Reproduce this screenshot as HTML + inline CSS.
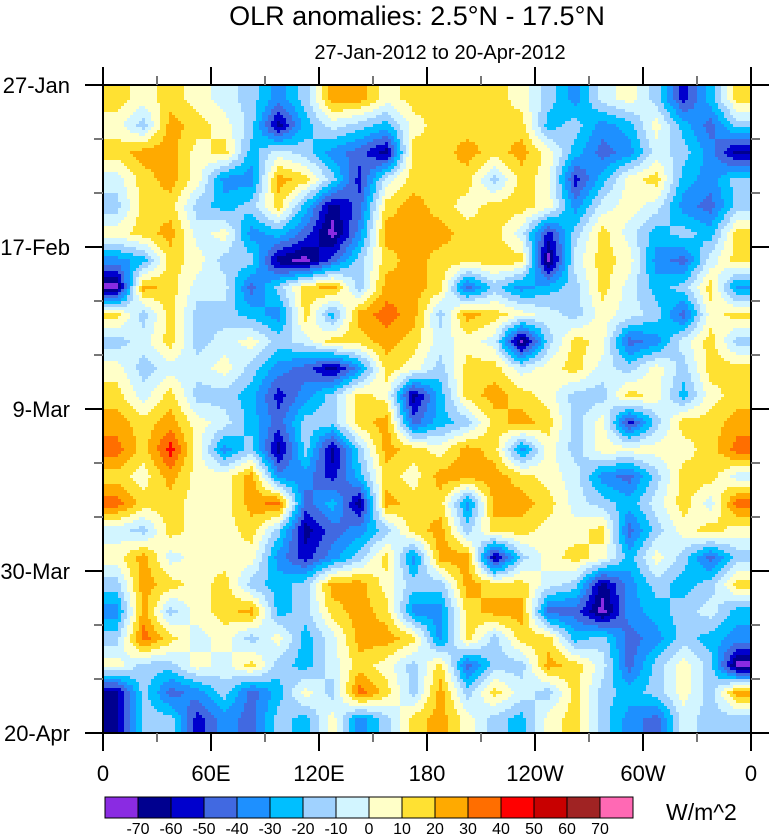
<!DOCTYPE html>
<html><head><meta charset="utf-8">
<style>
html,body{margin:0;padding:0;background:#fff;}
body{width:770px;height:834px;overflow:hidden;font-family:"Liberation Sans",sans-serif;}
svg text{font-family:"Liberation Sans",sans-serif;fill:#000;}
</style></head>
<body>
<svg id="chart" width="770" height="834" xmlns="http://www.w3.org/2000/svg">
<text x="417" y="25" font-size="27" text-anchor="middle">OLR anomalies: 2.5°N - 17.5°N</text>
<text x="440" y="59" font-size="20" text-anchor="middle">27-Jan-2012 to 20-Apr-2012</text>
<g id="field"></g>
<g id="axes"></g>
<g id="cbar"></g>
<text x="666" y="820" font-size="23">W/m^2</text>
</svg>
<script>
// data: longitude columns (0 to 360, 15° steps) x time rows (27-Jan .. 20-Apr)
const lonCategories = ["0","15E","30E","45E","60E","75E","90E","105E","120E","135E","150E","165E","180","165W","150W","135W","120W","105W","90W","75W","60W","45W","30W","15W"];
const xTickLabels = ["0","60E","120E","180","120W","60W","0"];
const yTickLabels = ["27-Jan","17-Feb","9-Mar","30-Mar","20-Apr"];
const levels = [-70,-60,-50,-40,-30,-20,-10,0,10,20,30,40,50,60,70];
const levelColors = ["#8a2be2","#00008f","#0000cd","#4169e1","#1e90ff","#00bfff","#a0d2ff","#d2f5ff","#ffffc8","#ffe132","#ffaa00","#ff6e00","#ff0000","#c80000","#a02323","#ff69b4"];
const olrRows = [
 [15,5,15,5,-5,-15,-35,-15,25,25,5,15, 15,15,15,5,-15,-35,-5,5,-15,-55,-25,15],
 [5,-15,25,15,5,-15,-65,-25,-5,-15,-25,5, 15,15,15,15,-25,-15,-35,-25,5,-25,-45,-15],
 [15,25,25,5,15,-25,-5,-15,-35,-45,-65,15, 15,25,15,25,5,-25,-45,-35,-5,-15,-35,-65],
 [-5,15,25,5,-35,-35,25,15,-15,-55,-5,15, 15,15,-15,15,5,-55,-25,5,15,-25,-35,-15],
 [-15,15,15,-15,-25,-15,15,-25,-65,-45,15,25, 15,5,15,15,5,-35,-5,5,-5,-35,-45,-15],
 [5,15,25,-5,5,-35,-25,-45,-75,-35,25,25, 25,15,15,-5,-55,-15,15,-5,-25,-15,-25,15],
 [-35,-25,15,5,-15,-15,-65,-75,-45,-15,15,25, 15,15,15,15,-75,-5,15,5,-35,-45,-5,15],
 [-75,25,15,-5,-5,-45,-15,15,25,-15,25,25, 15,-45,-15,-35,-25,-15,15,-5,-25,-15,15,-35],
 [15,-15,15,-15,-15,-25,-35,15,-25,25,35,25, -15,25,15,5,-5,-15,5,-5,-15,-45,5,15],
 [-15,-5,15,-15,-5,5,-15,-5,15,15,25,15, -5,5,-5,-75,-15,15,5,-45,-35,-5,15,-15],
 [5,-15,-5,-5,5,-15,-35,-45,-65,-35,15,5, -15,15,15,-5,5,15,-5,-15,5,-15,15,15],
 [15,-5,15,-15,-15,-25,-55,-35,-15,15,5,-65, -25,15,25,15,5,-15,-15,15,5,-25,5,15],
 [25,15,25,5,-5,-25,-45,-15,-15,15,25,-45, -25,-15,15,25,15,-15,5,-55,-15,15,15,25],
 [35,15,45,5,-35,-15,-65,-15,-65,-15,25,15, 5,25,15,-35,5,-15,5,5,5,5,15,35],
 [15,5,25,5,5,25,-35,-35,-55,-25,15,5, 25,25,25,15,5,-5,-35,-45,-15,15,15,-5],
 [35,15,15,5,5,25,35,-45,-25,-65,25,15, 15,-35,25,25,15,-5,-15,-25,-5,15,-5,35],
 [-5,-15,15,5,5,15,-15,-65,-45,-35,-15,15, 25,-15,15,15,5,5,15,-45,-15,5,15,5],
 [5,25,-5,5,5,5,-35,-55,-35,-15,15,-35, 25,25,-65,-15,5,15,5,-25,5,-15,-45,-15],
 [-15,25,15,5,15,-15,-25,-15,25,25,5,-15, -15,25,15,15,-5,-15,-65,-35,-15,-25,-15,15],
 [-35,25,-15,5,15,25,-25,-15,15,25,15,-35, -35,15,25,25,-45,-45,-75,-35,-25,-15,-5,-25],
 [-15,35,15,-5,5,-15,5,-25,-5,25,25,15, -35,15,-15,15,15,-25,-15,-45,-35,-15,-25,-35],
 [5,-15,-15,5,-5,15,-15,-25,-5,15,5,-15, 15,-45,-15,-15,25,15,-5,-45,-15,5,-15,-75],
 [-65,-15,-45,-35,-15,-45,-25,5,-15,35,15,-15, 25,-15,15,-5,-15,15,-15,-25,-15,5,-15,25],
 [-65,-15,-15,-55,-35,-45,-15,-25,5,-35,-15,15, 25,5,-15,-25,5,15,-15,-35,-45,-5,-15,-15]
];
</script>
<script>
const NS="http://www.w3.org/2000/svg";
const X0=103,X1=751,Y0=85,Y1=733;
const nCols=lonCategories.length,nRows=olrRows.length;
const cw=(X1-X0)/nCols,rh=(Y1-Y0)/nRows;
function colorFor(v){let i=0;while(i<levels.length&&v>=levels[i])i++;return levelColors[i];}
function sample(fx,fy){
  fx=Math.max(0,Math.min(nCols-1,fx));fy=Math.max(0,Math.min(nRows-1,fy));
  const c0=Math.floor(fx),r0=Math.floor(fy),c1=Math.min(nCols-1,c0+1),r1=Math.min(nRows-1,r0+1);
  const tx=fx-c0,ty=fy-r0;
  const a=olrRows[r0][c0]*(1-tx)+olrRows[r0][c1]*tx;
  const b=olrRows[r1][c0]*(1-tx)+olrRows[r1][c1]*tx;
  return a*(1-ty)+b*ty;
}
const field=document.getElementById('field');
const step=3;
for(let py=Y0;py<Y1;py+=step){
  let runStart=X0,runColor=null;
  for(let px=X0;px<=X1;px+=step){
    let col=null;
    if(px<X1){const v=sample((px+step/2-X0)/cw-0.5,(py+step/2-Y0)/rh-0.5);col=colorFor(v);}
    if(col!==runColor){
      if(runColor!==null){
        const r=document.createElementNS(NS,'rect');
        
        
        r.setAttribute('x',runStart);r.setAttribute('y',py);
        r.setAttribute('width',Math.min(px,X1)-runStart+0.5);r.setAttribute('height',Math.min(step,Y1-py)+0.5);
        r.setAttribute('fill',runColor);field.appendChild(r);
      }
      runStart=px;runColor=col;
    }
  }
}
const axes=document.getElementById('axes');
function line(x1,y1,x2,y2,st,w,name){const l=document.createElementNS(NS,'line');
 
 
 l.setAttribute('x1',x1);l.setAttribute('y1',y1);l.setAttribute('x2',x2);l.setAttribute('y2',y2);
 l.setAttribute('stroke',st);l.setAttribute('stroke-width',w);axes.appendChild(l);}
function txt(x,y,s,size,anchor,name,parent){const t=document.createElementNS(NS,'text');
 
 
 t.setAttribute('x',x);t.setAttribute('y',y);t.setAttribute('font-size',size);t.setAttribute('text-anchor',anchor);t.textContent=s;(parent||axes).appendChild(t);}
const fr=document.createElementNS(NS,'rect');


fr.setAttribute('x',X0);fr.setAttribute('y',Y0);fr.setAttribute('width',X1-X0);fr.setAttribute('height',Y1-Y0);
fr.setAttribute('fill','none');fr.setAttribute('stroke','#000');fr.setAttribute('stroke-width',2);axes.appendChild(fr);
const xm=(X1-X0)/(xTickLabels.length-1),ym=(Y1-Y0)/(yTickLabels.length-1);
xTickLabels.forEach((s,i)=>{const x=X0+i*xm;
 line(x,Y1,x,Y1+18,'#000',2,'x-major-tick');line(x,Y0,x,Y0-18,'#000',2,'x-major-tick');
 txt(x,Y1+48,s,22,'middle','x-tick-label');
 if(i<xTickLabels.length-1){line(x+xm/2,Y1,x+xm/2,Y1+9,'#777',2,'x-minor-tick');line(x+xm/2,Y0,x+xm/2,Y0-9,'#777',2,'x-minor-tick');}
});
yTickLabels.forEach((s,i)=>{const y=Y0+i*ym;
 line(X0,y,X0-18,y,'#000',2,'y-major-tick');line(X1,y,X1+18,y,'#000',2,'y-major-tick');
 txt(X0-33,y+8,s,22,'end','y-tick-label');
 if(i<yTickLabels.length-1){for(let k=1;k<3;k++){const yy=y+k*ym/3;line(X0,yy,X0-9,yy,'#777',2,'y-minor-tick');line(X1,yy,X1+9,yy,'#777',2,'y-minor-tick');}}
});
const cb=document.getElementById('cbar');
const CX0=105,CX1=633,CY=797,CH=21,bw=(CX1-CX0)/levelColors.length;
levelColors.forEach((c,i)=>{const r=document.createElementNS(NS,'rect');
 
 
 r.setAttribute('x',CX0+i*bw);r.setAttribute('y',CY);r.setAttribute('width',bw);r.setAttribute('height',CH);
 r.setAttribute('fill',c);r.setAttribute('stroke','#000');r.setAttribute('stroke-width',1);cb.appendChild(r);});
levels.forEach((v,i)=>txt(CX0+(i+1)*bw,834,String(v),16,'middle','colorbar-label',cb));
</script>
</body></html>
